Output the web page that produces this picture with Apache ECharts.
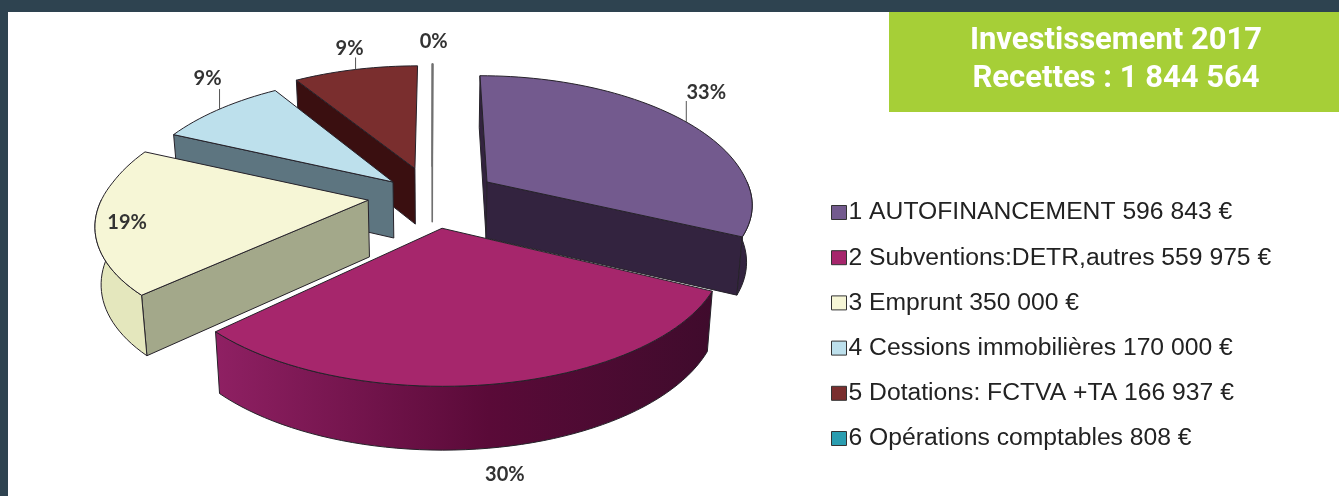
<!DOCTYPE html>
<html>
<head>
<meta charset="utf-8">
<title>Investissement 2017</title>
<style>
html, body { margin: 0; padding: 0; background: #2e4350; }
#chart { width: 1339px; height: 496px; }
</style>
<script src="https://cdn.jsdelivr.net/npm/echarts@6/dist/echarts.min.js"></script>
</head>
<body>
<div id="chart"></div>
<script>
const categories = ['1 AUTOFINANCEMENT', '2 Subventions:DETR,autres', '3 Emprunt', '4 Cessions immobilières', '5 Dotations: FCTVA +TA', '6 Opérations comptables']
const amounts = [596843, 559975, 350000, 170000, 166937, 808]
const percentLabels = ['33%', '30%', '19%', '9%', '9%', '0%']
const boxLines = ['Investissement 2017', 'Recettes : 1 844 564']

// colours per slice
const topColors = ['#735a8e', '#a6266c', '#f6f6d6', '#bde0ec', '#7a2e2e', '#2a9db0']
const wallColors = ['#33233f', '#5a0a38', '#a3a88a', '#5d7580', '#3a0f10', '#666666']
const arcColors = ['#33233f', null, '#e4e7bd', '#5d7580', '#3a0f10', '#666666']
const magentaWall = [
  { offset: 0, color: '#8f2063' },
  { offset: 0.55, color: '#5a0a38' },
  { offset: 1, color: '#3f0b2c' }
]

// how far each slice is pulled out: px sideways, radius units toward the viewer
const explodeX = [49, 3.8, -68, -45, -23.5, -6]
const explodeY = [0, 0.38, 0.155, 0, -0.11, -0.13]
// paint order, back to front
const paintZ = [5, 7, 4, 3, 2, 1]
// label offset from the middle of the outer edge, and leader line length
const labelDx = [20, 10, 32, -12, -6, 1]
const labelDy = [-29, 91, 1, -31, -21, -23]
const leaderLen = [21, 0, 0, 20, 12, 0]

// fake perspective of the tilted pie
const cx = 438
const cy = 182
const radius = 260
const tiltFront = 114
const tiltBack = 124
const viewDist = 6
const wallHeight = 56
const wallNarrow = 0.982

const total = amounts.reduce((a, b) => a + b, 0)
const formatAmount = v => String(v).replace(/\B(?=(\d{3})+$)/g, ' ') + ' €'
const legendNames = categories.map((c, i) => c + ' ' + formatAmount(amounts[i]))

function project (i, deg, r, down) {
  const rad = deg * Math.PI / 180
  const x = explodeX[i] + radius * r * Math.sin(rad)
  const y = explodeY[i] - r * Math.cos(rad)
  const w = 1 / (1 - y / viewDist)
  const sx = cx + x * w
  const sy = cy + (y < 0 ? tiltBack : tiltFront) * y * w
  if (down) {
    return [cx + (sx - cx) * wallNarrow, sy + wallHeight * Math.sqrt(w)]
  }
  return [sx, sy]
}

function arcPoints (i, from, to, down) {
  const pts = []
  const steps = Math.max(1, Math.ceil((to - from) / 2))
  for (let k = 0; k <= steps; k++) {
    pts.push(project(i, from + (to - from) * k / steps, 1, down))
  }
  return pts
}

function renderSlice (i, startDeg, endDeg) {
  // the last slice is so thin that only its outline shows, as a grey bar
  const edge = i === 5
    ? { stroke: '#707070', lineWidth: 1.6, lineJoin: 'round' }
    : { stroke: '#26222a', lineWidth: 1, lineJoin: 'round' }
  const apex = project(i, 0, 0, false)
  const apexDown = project(i, 0, 0, true)
  const wall = deg => ({
    type: 'polygon',
    shape: { points: [apex, project(i, deg, 1, false), project(i, deg, 1, true), apexDown] },
    style: { fill: wallColors[i], ...edge }
  })
  const children = []
  // the cut faces only show when they turn toward the viewer
  if (Math.sin(startDeg * Math.PI / 180) <= 0) {
    children.push(wall(startDeg))
  }
  if (Math.sin(endDeg * Math.PI / 180) > 0) {
    children.push(wall(endDeg))
  }

  // only the part of the rim that faces the viewer gets a wall
  const frontFrom = Math.max(startDeg, 90)
  const frontTo = Math.min(endDeg, 270)
  if (frontFrom < frontTo) {
    const fill = arcColors[i] || new echarts.graphic.LinearGradient(0, 0, 1, 0, magentaWall)
    children.push({
      type: 'polygon',
      shape: { points: arcPoints(i, frontFrom, frontTo, false).concat(arcPoints(i, frontFrom, frontTo, true).reverse()) },
      style: { fill: fill, ...edge }
    })
  }

  children.push({
    type: 'polygon',
    shape: { points: [apex].concat(arcPoints(i, startDeg, endDeg, false)) },
    style: { fill: topColors[i], ...edge }
  })

  const mid = project(i, (startDeg + endDeg) / 2, 1, false)
  if (leaderLen[i] > 0) {
    children.push({
      type: 'line',
      shape: { x1: mid[0], y1: mid[1], x2: mid[0], y2: mid[1] - leaderLen[i] },
      style: { stroke: '#555555', lineWidth: 1 }
    })
  }
  children.push({
    type: 'text',
    style: {
      x: mid[0] + labelDx[i],
      y: mid[1] + labelDy[i],
      text: percentLabels[i],
      fill: '#333333',
      font: 'bold 20px Lato',
      align: 'center',
      verticalAlign: 'middle'
    }
  })
  return { type: 'group', children: children }
}

let running = 0
const series = amounts.map((value, i) => {
  const startDeg = running / total * 360
  running += value
  const endDeg = running / total * 360
  return {
    type: 'custom',
    name: legendNames[i],
    coordinateSystem: 'none',
    z: 2 + paintZ[i],
    itemStyle: { color: topColors[i] },
    data: [[value]],
    renderItem: () => renderSlice(i, startDeg, endDeg)
  }
})

const chart = echarts.init(document.getElementById('chart'))
chart.setOption({
  animation: false,
  backgroundColor: '#2e4350',
  graphic: [
    { type: 'rect', z: 0, shape: { x: 8, y: 12, width: 1331, height: 484 }, style: { fill: '#ffffff' } },
    { type: 'rect', z: 1, shape: { x: 889, y: 12, width: 450, height: 100 }, style: { fill: '#a6cf37' } }
  ],
  title: {
    text: boxLines.join('\n'),
    left: 1111,
    top: 17,
    textAlign: 'center',
    textStyle: {
      color: '#ffffff',
      fontFamily: 'Roboto',
      fontWeight: 'bold',
      fontSize: 31,
      lineHeight: 38
    }
  },
  legend: {
    orient: 'vertical',
    left: 826,
    top: 192.5,
    padding: 5,
    itemGap: 15.2,
    itemWidth: 15,
    itemHeight: 14,
    icon: 'rect',
    selectedMode: false,
    data: legendNames,
    itemStyle: { borderColor: '#333333', borderWidth: 1 },
    textStyle: {
      color: '#222222',
      fontFamily: 'Liberation Sans',
      fontSize: 24.7,
      lineHeight: 26,
      padding: [4, 0, 0, -3]
    }
  },
  series: series
})
</script>
</body>
</html>
